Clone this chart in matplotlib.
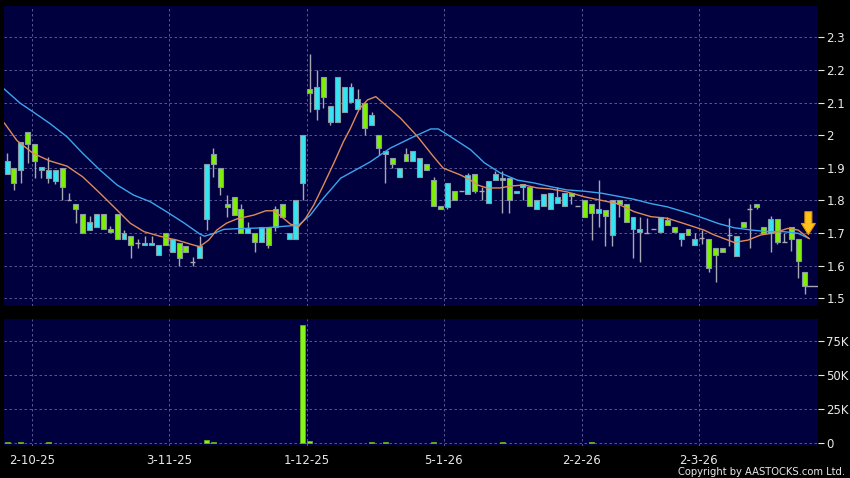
import matplotlib
matplotlib.use("Agg")
import matplotlib.pyplot as plt
import numpy as np

# ---------------- data ----------------
opens = [1.88, 1.90, 1.893, 2.01, 1.972, 1.893, 1.868, 1.86, 1.90, 1.80,
         1.79, 1.759, 1.71, 1.719, 1.759, 1.712, 1.759, 1.68, 1.69, 1.668,
         1.662, 1.662, 1.633, 1.70, 1.642, 1.67, 1.66, 1.612, 1.622, 1.742,
         1.941, 1.90, 1.79, 1.811, 1.773, 1.70, 1.70, 1.673, 1.719, 1.772,
         1.79, 1.681, 1.681, 1.852, 2.14, 2.08, 2.179, 2.039, 2.039, 2.072,
         2.103, 2.079, 2.10, 2.031, 2.0, 1.942, 1.931, 1.871, 1.941, 1.921,
         1.871, 1.911, 1.862, 1.783, 1.78, 1.83, 1.83, 1.821, 1.88, 1.83,
         1.791, 1.862, 1.862, 1.869, 1.822, 1.842, 1.84, 1.772, 1.783, 1.772,
         1.791, 1.783, 1.822, 1.783, 1.80, 1.79, 1.76, 1.77, 1.694, 1.80,
         1.79, 1.711, 1.703, 1.70, 1.711, 1.703, 1.74, 1.719, 1.68, 1.711,
         1.663, 1.684, 1.682, 1.653, 1.653, 1.694, 1.63, 1.733, 1.773, 1.79,
         1.719, 1.70, 1.743, 1.673, 1.719, 1.682, 1.581]
closes = [1.92, 1.852, 1.98, 1.973, 1.92, 1.902, 1.893, 1.893, 1.84, 1.80,
          1.773, 1.70, 1.733, 1.759, 1.712, 1.703, 1.68, 1.70, 1.662, 1.668,
          1.67, 1.67, 1.663, 1.663, 1.68, 1.624, 1.641, 1.612, 1.66, 1.911,
          1.911, 1.84, 1.78, 1.755, 1.70, 1.714, 1.671, 1.719, 1.663, 1.719,
          1.75, 1.70, 1.80, 2.0, 2.128, 2.149, 2.118, 2.089, 2.179, 2.149,
          2.149, 2.11, 2.021, 2.062, 1.96, 1.951, 1.911, 1.90, 1.921, 1.951,
          1.931, 1.893, 1.783, 1.774, 1.852, 1.80, 1.83, 1.878, 1.829, 1.83,
          1.86, 1.88, 1.869, 1.80, 1.83, 1.85, 1.783, 1.80, 1.82, 1.822,
          1.811, 1.822, 1.813, 1.783, 1.75, 1.76, 1.772, 1.752, 1.80, 1.79,
          1.733, 1.75, 1.711, 1.70, 1.711, 1.748, 1.723, 1.703, 1.70, 1.694,
          1.68, 1.684, 1.592, 1.632, 1.641, 1.694, 1.692, 1.719, 1.773, 1.78,
          1.70, 1.743, 1.673, 1.673, 1.682, 1.614, 1.538]
highs = [1.945, 1.90, 1.98, 2.01, 1.972, 1.902, 1.934, 1.893, 1.90, 1.823,
         1.79, 1.759, 1.752, 1.759, 1.759, 1.72, 1.759, 1.71, 1.69, 1.68,
         1.69, 1.69, 1.663, 1.70, 1.68, 1.67, 1.66, 1.625, 1.69, 1.911,
         1.96, 1.90, 1.816, 1.811, 1.79, 1.734, 1.70, 1.719, 1.719, 1.783,
         1.79, 1.70, 1.80, 2.0, 2.248, 2.20, 2.179, 2.089, 2.179, 2.149,
         2.16, 2.14, 2.10, 2.07, 2.0, 1.951, 1.931, 1.90, 1.96, 1.951,
         1.931, 1.911, 1.871, 1.783, 1.852, 1.83, 1.83, 1.885, 1.88, 1.84,
         1.86, 1.891, 1.891, 1.869, 1.83, 1.85, 1.84, 1.80, 1.82, 1.822,
         1.84, 1.822, 1.822, 1.783, 1.80, 1.79, 1.862, 1.77, 1.80, 1.80,
         1.79, 1.75, 1.75, 1.745, 1.711, 1.748, 1.75, 1.719, 1.70, 1.711,
         1.70, 1.709, 1.682, 1.653, 1.653, 1.745, 1.692, 1.733, 1.79, 1.79,
         1.719, 1.753, 1.743, 1.70, 1.719, 1.682, 1.581]
lows = [1.88, 1.832, 1.853, 1.915, 1.868, 1.87, 1.853, 1.85, 1.80, 1.80,
        1.731, 1.70, 1.71, 1.719, 1.712, 1.703, 1.68, 1.68, 1.623, 1.655,
        1.662, 1.662, 1.633, 1.663, 1.642, 1.60, 1.641, 1.60, 1.622, 1.709,
        1.872, 1.816, 1.75, 1.755, 1.70, 1.70, 1.642, 1.673, 1.653, 1.705,
        1.75, 1.681, 1.681, 1.80, 2.072, 2.046, 2.083, 2.031, 2.039, 2.072,
        2.103, 2.079, 2.0, 2.031, 1.939, 1.852, 1.90, 1.871, 1.921, 1.921,
        1.871, 1.893, 1.783, 1.774, 1.772, 1.80, 1.83, 1.821, 1.822, 1.80,
        1.791, 1.862, 1.76, 1.76, 1.822, 1.80, 1.783, 1.772, 1.783, 1.772,
        1.791, 1.783, 1.79, 1.783, 1.75, 1.678, 1.717, 1.66, 1.66, 1.75,
        1.733, 1.622, 1.612, 1.70, 1.711, 1.703, 1.723, 1.703, 1.66, 1.694,
        1.663, 1.665, 1.579, 1.55, 1.641, 1.66, 1.63, 1.719, 1.655, 1.775,
        1.70, 1.643, 1.665, 1.673, 1.644, 1.561, 1.512]

vol_idx = [0, 2, 6, 29, 30, 43, 44, 53, 55, 62, 72, 85]
vol_val = [600, 600, 500, 2200, 700, 86800, 1500, 500, 500, 500, 600, 400]

# moving averages (bar position, value)
ma_short_x = [-0.4, 1.45, 3.8, 6.2, 8.7, 11.0, 13.5, 16.0, 17.9, 19.9, 22.2, 24.7,
              27.1, 28.0, 29.3, 30.5, 31.9, 33.4, 35.9, 37.6, 38.8, 39.9, 41.2,
              42.4, 43.4, 44.6, 46.0, 47.5, 48.9, 49.9, 51.2, 52.4, 53.6, 54.7,
              57.2, 59.7, 62.0, 63.4, 65.9, 67.4, 68.4, 69.8, 71.7, 73.2, 75.2,
              77.1, 79.0, 81.4, 83.9, 86.4, 88.7, 91.2, 93.6, 96.0, 98.4, 101.3,
              102.8, 105.7, 107.7, 109.6, 111.5, 113.5, 115.0, 116.6]
ma_short = [2.037, 1.983, 1.944, 1.921, 1.905, 1.872, 1.822, 1.770, 1.730, 1.704,
            1.690, 1.678, 1.663, 1.658, 1.678, 1.709, 1.730, 1.743, 1.755, 1.768,
            1.768, 1.750, 1.727, 1.720, 1.745, 1.786, 1.847, 1.914, 1.980, 2.02,
            2.08, 2.108, 2.118, 2.098, 2.052, 1.995, 1.934, 1.899, 1.878, 1.862,
            1.847, 1.838, 1.838, 1.844, 1.847, 1.838, 1.835, 1.826, 1.811, 1.800,
            1.790, 1.765, 1.750, 1.745, 1.729, 1.709, 1.694, 1.671, 1.678, 1.694,
            1.700, 1.714, 1.709, 1.683]
ma_long_x = [-0.4, 1.9, 3.8, 6.2, 8.7, 11.0, 13.5, 16.0, 18.4, 20.8, 23.2, 25.7,
             28.0, 28.7, 30.1, 31.5, 33.4, 37.7, 42.4, 44.1, 46.0, 48.5, 50.4,
             52.8, 55.7, 58.7, 61.6, 62.7, 64.5, 67.4, 69.4, 71.7, 74.2, 76.7,
             79.0, 81.4, 83.9, 86.4, 88.7, 91.2, 93.6, 96.0, 98.4, 101.3, 103.4,
             105.7, 108.2, 110.6, 112.9, 115.0, 116.6]
ma_long = [2.141, 2.098, 2.071, 2.036, 1.995, 1.944, 1.893, 1.847, 1.816, 1.796,
           1.765, 1.731, 1.697, 1.690, 1.699, 1.711, 1.713, 1.716, 1.724, 1.755,
           1.807, 1.868, 1.890, 1.918, 1.960, 1.991, 2.019, 2.019, 1.995, 1.955,
           1.915, 1.884, 1.862, 1.853, 1.842, 1.832, 1.828, 1.822, 1.813, 1.803,
           1.790, 1.780, 1.765, 1.745, 1.729, 1.716, 1.709, 1.704, 1.704, 1.699,
           1.683]

date_ticks = [3.6, 23.55, 43.55, 63.5, 83.55, 100.55]
date_labels = ["2-10-25", "3-11-25", "1-12-25", "5-1-26", "2-2-26", "2-3-26"]
price_ticks = [1.5, 1.6, 1.7, 1.8, 1.9, 2.0, 2.1, 2.2, 2.3]
price_labels = ["1.5", "1.6", "1.7", "1.8", "1.9", "2", "2.1", "2.2", "2.3"]
vol_ticks = [0, 25000, 50000, 75000]
vol_labels = ["0", "25K", "50K", "75K"]

# ---------------- styling ----------------
BG = "#00003f"
GRID = "#6464a0"
UP = "#33e6f2"
DOWN = "#7ff000"
EDGE = "#8a9aa4"
WICK = "#a8a8b4"
TXT = "#e8e8e8"

fig = plt.figure(figsize=(8.5, 4.78), dpi=100, facecolor="black")
W, H = 850.0, 478.0
ax = fig.add_axes([4 / W, (H - 306) / H, (818 - 4) / W, 300 / H], facecolor=BG)
axv = fig.add_axes([4 / W, (H - 446) / H, (818 - 4) / W, 127 / H], facecolor=BG, sharex=ax)

n = len(opens)
x = np.arange(n)
o = np.array(opens); c = np.array(closes); h = np.array(highs); l = np.array(lows)

# wicks
ax.vlines(x, l, h, color=WICK, linewidth=1.0, zorder=2)
# bodies
up = c > o
dn = c < o
dj = c == o
bw = 0.72
ax.bar(x[up], (c - o)[up], bottom=o[up], width=bw, color=UP, edgecolor=EDGE, linewidth=0.8, zorder=3)
ax.bar(x[dn], (o - c)[dn], bottom=c[dn], width=bw, color=DOWN, edgecolor=EDGE, linewidth=0.8, zorder=3)
ax.hlines(c[dj], x[dj] - bw / 2, x[dj] + bw / 2, color=WICK, linewidth=1.0, zorder=3)

# moving averages
ax.plot(ma_long_x, ma_long, color="#3aa6ee", linewidth=1.0, zorder=4)
ax.plot(ma_short_x, ma_short, color="#e08a58", linewidth=1.0, zorder=4)

# last price line
ax.hlines(c[-1], x[-1], n + 2, color=WICK, linewidth=1.0, zorder=2)

# arrow marker
ax.annotate("", xy=(x[-1] + 0.5, 1.695), xytext=(x[-1] + 0.5, 1.765),
            arrowprops=dict(arrowstyle="simple,head_width=1.0,head_length=0.8,tail_width=0.5",
                            fc="#ffc21a", ec="#e89a00", lw=0.8, shrinkA=0, shrinkB=0,
                            mutation_scale=10), zorder=6)

ax.set_xlim(-0.45, 117.9)
ax.set_ylim(1.476, 2.396)

# volume
axv.bar(vol_idx, vol_val, width=0.72, color="#86f51a", edgecolor="#5fb01a", linewidth=0.6, zorder=3)
axv.set_ylim(-2200, 91200)

for a in (ax, axv):
    for s in a.spines.values():
        s.set_visible(False)
    a.grid(True, color=GRID, linestyle=(0, (3, 3)), linewidth=0.6)
    a.set_axisbelow(True)
    a.yaxis.tick_right()
    a.tick_params(axis="y", colors=TXT, labelcolor=TXT, length=4, width=0.8,
                  pad=2, labelsize=8.5, direction="out")
    a.set_xticks(date_ticks)

ax.set_yticks(price_ticks)
ax.set_yticklabels(price_labels)
axv.set_yticks(vol_ticks)
axv.set_yticklabels(vol_labels)

ax.tick_params(axis="x", length=0, labelbottom=False)
axv.set_xticklabels(date_labels)
axv.tick_params(axis="x", colors=TXT, labelcolor=TXT, length=0, pad=6, labelsize=8.5)

fig.text(845 / W, 1 - 472 / H, "Copyright by AASTOCKS.com Ltd.", color=TXT,
         fontsize=7.2, ha="right", va="center")

fig.savefig("out.png", dpi=100, facecolor="black")
